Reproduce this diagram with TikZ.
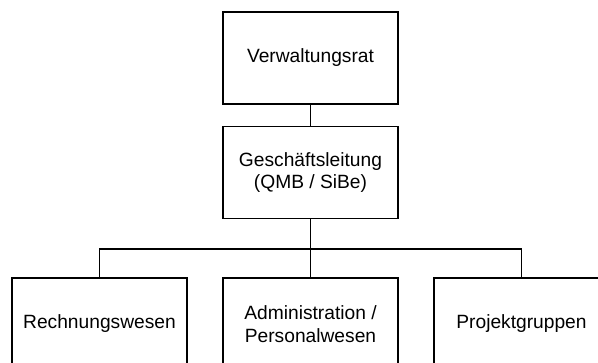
\documentclass[tikz,border=0pt]{standalone}
\usepackage{fontspec}
\setmainfont{Liberation Sans}
\begin{document}
\begin{tikzpicture}[x=1pt,y=-1pt,
  orgbox/.style={draw=black,line width=1.2pt,minimum width=175pt,minimum height=92pt,
    inner sep=0pt,align=center,font=\fontsize{19.2}{22.5}\selectfont},
  conn/.style={draw=black,line width=1.2pt}]
\useasboundingbox (0,0) rectangle (598,363);
\clip (0,0) rectangle (598,363);
\node[orgbox] (vr) at (310.5,58) {Verwaltungsrat};
\node[orgbox] (gl) at (310.5,172.5) {Geschäftsleitung\\(QMB / SiBe)};
\node[orgbox] (rw) at (99.5,324) {Rechnungswesen};
\node[orgbox] (ap) at (310.5,324) {Administration /\\Personalwesen};
\node[orgbox] (pg) at (521.5,324) {Projektgruppen};
\coordinate (bus) at (310.5,249);
\draw[conn] (vr) -- (gl);
\draw[conn] (gl) -- (ap);
\draw[conn] (rw.north) |- (bus) -| (pg.north);
\end{tikzpicture}
\end{document}
